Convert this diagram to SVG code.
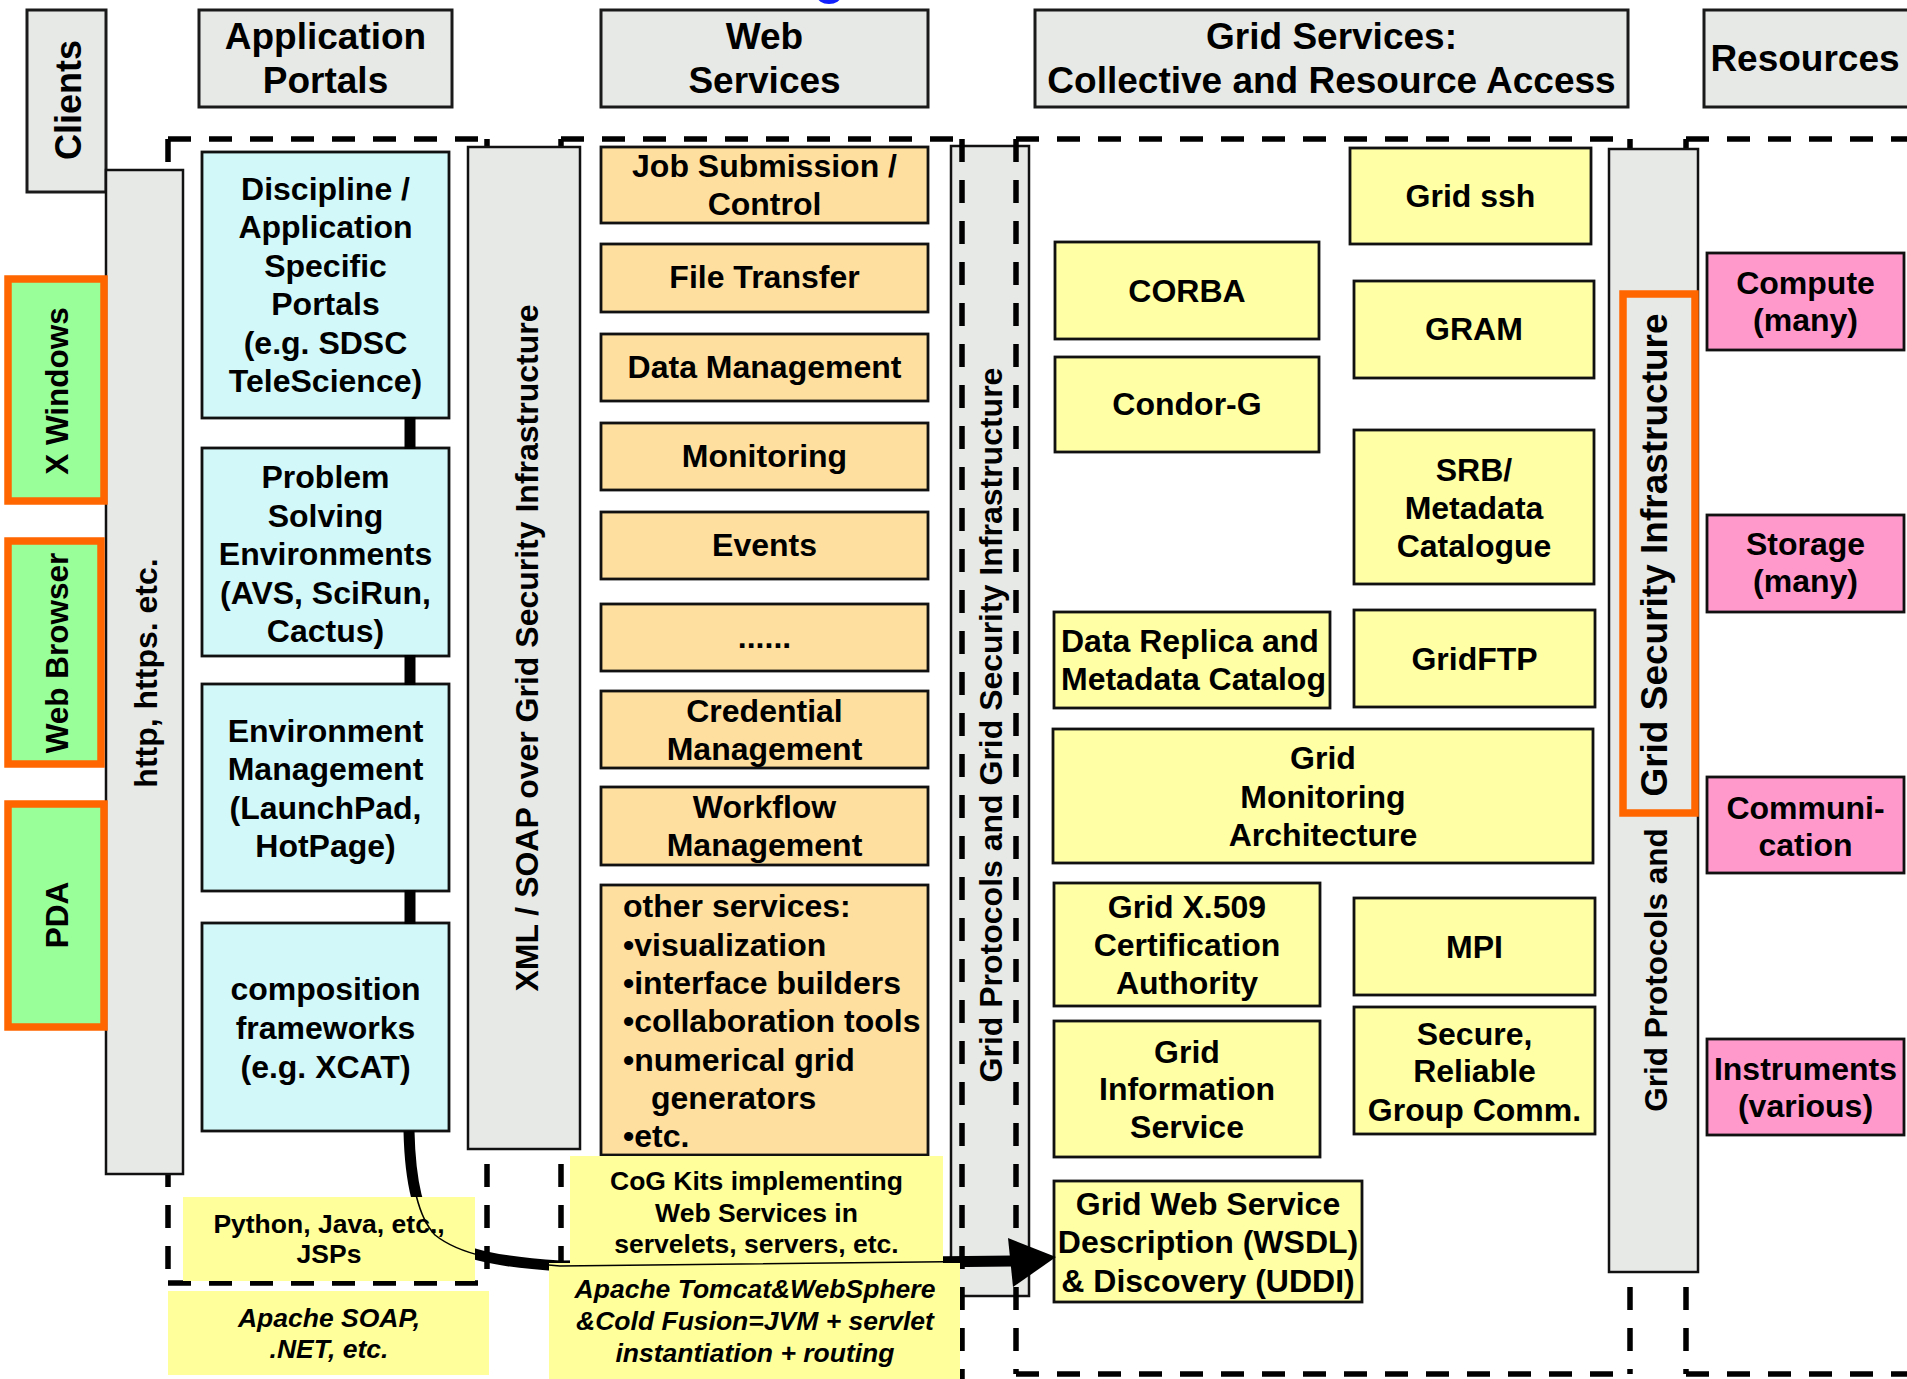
<svg xmlns="http://www.w3.org/2000/svg" width="1907" height="1379" viewBox="0 0 1907 1379">
<defs>
<style>
text{font-family:"Liberation Sans",Arial,Helvetica,sans-serif;font-weight:700;fill:#000}
.h{font-size:37px;text-anchor:middle}
.t{font-size:32px;text-anchor:middle}
.l{font-size:32px;text-anchor:start}
.n{font-size:26.5px;text-anchor:middle}
.i{font-style:italic}
.hdr{fill:#e7e9e7;stroke:#1a1a1a;stroke-width:3}
.bar{fill:#e7e9e7;stroke:#111;stroke-width:2.5}
.cli{fill:#99ff99;stroke:#ff6600;stroke-width:7.5}
.por{fill:#d3f8fa;stroke:#111;stroke-width:2.8}
.web{fill:#ffdf9f;stroke:#111;stroke-width:2.8}
.grd{fill:#ffffa6;stroke:#111;stroke-width:2.8}
.res{fill:#ff99cc;stroke:#111;stroke-width:2.8}
.note{fill:#ffff9c}
.dash{fill:none;stroke:#000;stroke-width:5.5;stroke-dasharray:23 18}
.thick{fill:none;stroke:#000;stroke-width:11}
.thin{fill:none;stroke:#000;stroke-width:1.6}
</style>
<mask id="noteMask" maskUnits="userSpaceOnUse" x="0" y="0" width="1907" height="1379">
<rect x="0" y="0" width="1907" height="1379" fill="#fff"/>
<rect x="183" y="1197" width="292" height="84" fill="#000"/>
<rect x="570" y="1156" width="373" height="107" fill="#000"/>
<rect x="549" y="1263" width="411" height="116" fill="#000"/>
</mask>
</defs>
<rect x="0" y="0" width="1907" height="1379" fill="#fff"/>
<ellipse cx="829" cy="-4" rx="12" ry="8" fill="#1020ff"/>

<g id="grid-protocols-bar">
<rect class="bar" x="951" y="146" width="78" height="1150"/>
<text class="t" transform="translate(1002,725) rotate(-90)">Grid Protocols and Grid Security Infrastructure</text>
</g>

<g id="boundaries">
<line class="dash" x1="168" y1="139" x2="487" y2="139"/>
<line class="dash" x1="487" y1="139" x2="487" y2="1283"/>
<line class="dash" x1="168" y1="1283" x2="487" y2="1283"/>
<line class="dash" x1="168" y1="139" x2="168" y2="1283"/>
<line class="dash" x1="561" y1="139" x2="962" y2="139"/>
<line class="dash" x1="561" y1="139" x2="561" y2="1379"/>
<line class="dash" x1="962" y1="139" x2="962" y2="1379"/>
<line class="dash" x1="1016" y1="139" x2="1630" y2="139"/>
<line class="dash" x1="1016" y1="139" x2="1016" y2="1374"/>
<line class="dash" x1="1630" y1="139" x2="1630" y2="1374"/>
<line class="dash" x1="1016" y1="1374" x2="1630" y2="1374"/>
<line class="dash" x1="1686" y1="139" x2="1907" y2="139"/>
<line class="dash" x1="1686" y1="139" x2="1686" y2="1374"/>
<line class="dash" x1="1686" y1="1374" x2="1907" y2="1374"/>
</g>

<g id="hdr-clients"><rect class="hdr" x="27" y="10" width="79" height="182"/><text class="h" style="font-size:36px" transform="translate(81,100) rotate(-90)">Clients</text></g>
<g id="hdr-portals"><rect class="hdr" x="199" y="10" width="253" height="97"/><text class="h" x="325.5" y="49">Application</text><text class="h" x="325.5" y="93">Portals</text></g>
<g id="hdr-web"><rect class="hdr" x="601" y="10" width="327" height="97"/><text class="h" x="764.5" y="49">Web</text><text class="h" x="764.5" y="93">Services</text></g>
<g id="hdr-grid"><rect class="hdr" x="1035" y="10" width="593" height="97"/><text class="h" x="1331.5" y="49">Grid Services:</text><text class="h" x="1331.5" y="93">Collective and Resource Access</text></g>
<g id="hdr-resources"><rect class="hdr" x="1704" y="10" width="215" height="97"/><text class="h" x="1805" y="71">Resources</text></g>

<g id="http-bar"><rect class="bar" x="106" y="170" width="77" height="1004"/><text class="t" transform="translate(157,673) rotate(-90)">http, https. etc.</text></g>
<g id="xml-bar"><rect class="bar" x="468" y="147" width="112" height="1002"/><text class="t" transform="translate(538,648) rotate(-90)">XML / SOAP over Grid Security Infrastructure</text></g>
<g id="grid-protocols-right">
<rect class="bar" x="1609" y="149" width="89" height="1123"/>
<rect x="1623" y="294" width="72" height="519" fill="#e7e9e7" stroke="#ff6600" stroke-width="7.5"/>
<text class="t" style="font-size:37px" transform="translate(1667,555) rotate(-90)">Grid Security Infrastructure</text>
<text class="t" style="font-size:31.5px" transform="translate(1667,970) rotate(-90)">Grid Protocols and</text>
</g>

<g id="client-xwindows"><rect class="cli" x="8" y="279" width="96" height="222"/><text class="t" style="font-size:31.5px" transform="translate(68,391) rotate(-90)">X Windows</text></g>
<g id="client-webbrowser"><rect class="cli" x="8" y="541" width="93" height="223"/><text class="t" style="font-size:31.5px" transform="translate(68,653) rotate(-90)">Web Browser</text></g>
<g id="client-pda"><rect class="cli" x="8" y="804" width="96" height="223"/><text class="t" style="font-size:31.5px" transform="translate(68,915) rotate(-90)">PDA</text></g>

<g id="portal-discipline"><rect class="por" x="202" y="152" width="247" height="266"/>
<text class="t" x="325.5" y="200">Discipline /</text><text class="t" x="325.5" y="238.4">Application</text><text class="t" x="325.5" y="276.8">Specific</text><text class="t" x="325.5" y="315.2">Portals</text><text class="t" x="325.5" y="353.6">(e.g. SDSC</text><text class="t" x="325.5" y="392">TeleScience)</text></g>
<g id="portal-pse"><rect class="por" x="202" y="448" width="247" height="208"/>
<text class="t" x="325.5" y="488">Problem</text><text class="t" x="325.5" y="526.5">Solving</text><text class="t" x="325.5" y="565">Environments</text><text class="t" x="325.5" y="603.5">(AVS, SciRun,</text><text class="t" x="325.5" y="642">Cactus)</text></g>
<g id="portal-env"><rect class="por" x="202" y="684" width="247" height="207"/>
<text class="t" x="325.5" y="742">Environment</text><text class="t" x="325.5" y="780">Management</text><text class="t" x="325.5" y="819">(LaunchPad,</text><text class="t" x="325.5" y="857">HotPage)</text></g>
<g id="portal-composition"><rect class="por" x="202" y="923" width="247" height="208"/>
<text class="t" x="325.5" y="1000">composition</text><text class="t" x="325.5" y="1039">frameworks</text><text class="t" x="325.5" y="1078">(e.g. XCAT)</text></g>

<g id="web-job"><rect class="web" x="601" y="147" width="327" height="76"/><text class="t" x="764.5" y="177">Job Submission /</text><text class="t" x="764.5" y="215">Control</text></g>
<g id="web-file"><rect class="web" x="601" y="244" width="327" height="68"/><text class="t" x="764.5" y="288">File Transfer</text></g>
<g id="web-data"><rect class="web" x="601" y="334" width="327" height="67"/><text class="t" x="764.5" y="378">Data Management</text></g>
<g id="web-monitoring"><rect class="web" x="601" y="423" width="327" height="67"/><text class="t" x="764.5" y="467">Monitoring</text></g>
<g id="web-events"><rect class="web" x="601" y="512" width="327" height="67"/><text class="t" x="764.5" y="556">Events</text></g>
<g id="web-dots"><rect class="web" x="601" y="604" width="327" height="67"/><text class="t" x="764.5" y="648">......</text></g>
<g id="web-credential"><rect class="web" x="601" y="691" width="327" height="77"/><text class="t" x="764.5" y="722">Credential</text><text class="t" x="764.5" y="760">Management</text></g>
<g id="web-workflow"><rect class="web" x="601" y="787" width="327" height="78"/><text class="t" x="764.5" y="818">Workflow</text><text class="t" x="764.5" y="856">Management</text></g>
<g id="web-other"><rect class="web" x="601" y="885" width="327" height="270"/>
<text class="l" x="623" y="917">other services:</text><text class="l" x="623" y="955.5">•visualization</text><text class="l" x="623" y="994">•interface builders</text><text class="l" x="623" y="1032">•collaboration tools</text><text class="l" x="623" y="1070.5">•numerical grid</text><text class="l" x="651" y="1109">generators</text><text class="l" x="623" y="1147">•etc.</text></g>

<g id="grid-ssh"><rect class="grd" x="1350" y="148" width="241" height="96"/><text class="t" x="1470.5" y="207">Grid ssh</text></g>
<g id="grid-corba"><rect class="grd" x="1055" y="242" width="264" height="97"/><text class="t" x="1187" y="302">CORBA</text></g>
<g id="grid-gram"><rect class="grd" x="1354" y="281" width="240" height="97"/><text class="t" x="1474" y="340">GRAM</text></g>
<g id="grid-condor"><rect class="grd" x="1055" y="357" width="264" height="95"/><text class="t" x="1187" y="415">Condor-G</text></g>
<g id="grid-srb"><rect class="grd" x="1354" y="430" width="240" height="154"/><text class="t" x="1474" y="481">SRB/</text><text class="t" x="1474" y="519">Metadata</text><text class="t" x="1474" y="557">Catalogue</text></g>
<g id="grid-replica"><rect class="grd" x="1054" y="612" width="276" height="96"/><text class="l" x="1061" y="652">Data Replica and</text><text class="l" x="1061" y="690">Metadata Catalog</text></g>
<g id="grid-ftp"><rect class="grd" x="1354" y="610" width="241" height="97"/><text class="t" x="1474.5" y="670">GridFTP</text></g>
<g id="grid-gma"><rect class="grd" x="1053" y="729" width="540" height="134"/><text class="t" x="1323" y="769">Grid</text><text class="t" x="1323" y="808">Monitoring</text><text class="t" x="1323" y="846">Architecture</text></g>
<g id="grid-x509"><rect class="grd" x="1054" y="883" width="266" height="123"/><text class="t" x="1187" y="918">Grid X.509</text><text class="t" x="1187" y="956">Certification</text><text class="t" x="1187" y="994">Authority</text></g>
<g id="grid-gis"><rect class="grd" x="1054" y="1021" width="266" height="136"/><text class="t" x="1187" y="1063">Grid</text><text class="t" x="1187" y="1100">Information</text><text class="t" x="1187" y="1138">Service</text></g>
<g id="grid-mpi"><rect class="grd" x="1354" y="898" width="241" height="97"/><text class="t" x="1474.5" y="958">MPI</text></g>
<g id="grid-secure"><rect class="grd" x="1354" y="1007" width="241" height="127"/><text class="t" x="1474.5" y="1045">Secure,</text><text class="t" x="1474.5" y="1082">Reliable</text><text class="t" x="1474.5" y="1121">Group Comm.</text></g>
<g id="grid-wsdl"><rect class="grd" x="1054" y="1181" width="308" height="121"/><text class="t" x="1208" y="1215">Grid Web Service</text><text class="t" x="1208" y="1253">Description (WSDL)</text><text class="t" x="1208" y="1292">&amp; Discovery (UDDI)</text></g>

<g id="res-compute"><rect class="res" x="1707" y="253" width="197" height="97"/><text class="t" x="1805.5" y="294">Compute</text><text class="t" x="1805.5" y="331">(many)</text></g>
<g id="res-storage"><rect class="res" x="1707" y="515" width="197" height="97"/><text class="t" x="1805.5" y="555">Storage</text><text class="t" x="1805.5" y="592">(many)</text></g>
<g id="res-comm"><rect class="res" x="1707" y="777" width="197" height="96"/><text class="t" x="1805.5" y="819">Communi-</text><text class="t" x="1805.5" y="856">cation</text></g>
<g id="res-instruments"><rect class="res" x="1707" y="1039" width="197" height="96"/><text class="t" x="1805.5" y="1080">Instruments</text><text class="t" x="1805.5" y="1117">(various)</text></g>

<g id="note-python"><rect class="note" x="183" y="1197" width="292" height="84"/><text class="n" x="329" y="1233">Python, Java, etc.,</text><text class="n" x="329" y="1263">JSPs</text></g>
<g id="note-soap"><rect class="note" x="168" y="1291" width="321" height="84"/><text class="n i" x="329" y="1327">Apache SOAP,</text><text class="n i" x="329" y="1358">.NET, etc.</text></g>
<g id="note-cog"><rect class="note" x="570" y="1156" width="373" height="107"/><text class="n" x="756.5" y="1190">CoG Kits implementing</text><text class="n" x="756.5" y="1222">Web Services in</text><text class="n" x="756.5" y="1253">servelets, servers, etc.</text></g>
<g id="note-tomcat"><rect class="note" x="549" y="1263" width="411" height="116"/><text class="n i" x="755" y="1298">Apache Tomcat&amp;WebSphere</text><text class="n i" x="755" y="1330">&amp;Cold Fusion=JVM + servlet</text><text class="n i" x="755" y="1362">instantiation + routing</text></g>

<g id="connectors">
<line class="thick" x1="410" y1="417" x2="410" y2="449"/>
<line class="thick" x1="410" y1="655" x2="410" y2="685"/>
<line class="thick" x1="410" y1="890" x2="410" y2="924"/>
<path class="thick" mask="url(#noteMask)" d="M409,1131 C410,1175 416,1215 435,1235 C460,1255 500,1262 560,1266 L1012,1261"/>
<path class="thin" d="M409,1131 C410,1175 416,1215 435,1235 C460,1255 500,1262 560,1266 L1012,1261"/>
<polygon points="1008,1238 1056,1257 1013,1287" fill="#000"/>
</g>
</svg>
